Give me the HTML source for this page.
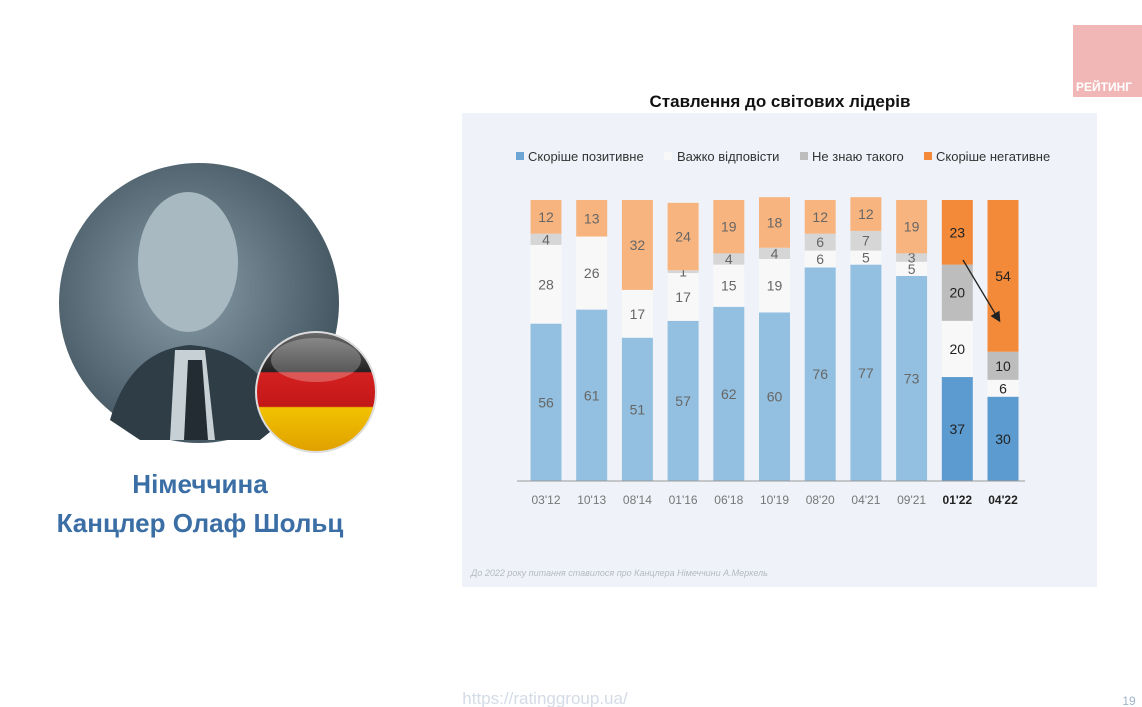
<!DOCTYPE html>
<html><head><meta charset="utf-8"><style>
html,body{margin:0;padding:0;background:#fff;width:1142px;height:707px;overflow:hidden}
svg{display:block;font-family:"Liberation Sans","DejaVu Sans",sans-serif}
</style></head><body>
<svg id="s" width="1142" height="707" viewBox="0 0 1142 707" xmlns="http://www.w3.org/2000/svg">
<defs>
<radialGradient id="ph" cx="0.45" cy="0.45" r="0.6"><stop offset="0" stop-color="#8a9ea9"/><stop offset="1" stop-color="#3f525d"/></radialGradient>
<linearGradient id="fl" x1="0" y1="0" x2="0" y2="1">
<stop offset="0" stop-color="#6a6a6a"/><stop offset="0.33" stop-color="#222"/><stop offset="0.34" stop-color="#d42020"/><stop offset="0.62" stop-color="#c21818"/><stop offset="0.63" stop-color="#f2c200"/><stop offset="1" stop-color="#e0a000"/></linearGradient>
<marker id="ah" markerWidth="8" markerHeight="8" refX="6" refY="4" orient="auto"><path d="M0,0L8,4L0,8z" fill="#222"/></marker>
</defs>
<rect x="1073" y="25" width="69" height="72" fill="#f1b7b7"/>
<text x="1076" y="91" font-size="12" font-weight="bold" fill="#fff">РЕЙТИНГ</text>
<circle cx="199" cy="303" r="140" fill="url(#ph)"/>
<ellipse cx="188" cy="262" rx="50" ry="70" fill="#a9b9c1"/>
<path d="M110,420 Q130,350 190,345 Q260,350 285,420 L260,440 L140,440Z" fill="#2e3d46"/>
<path d="M175,350 L205,350 L215,440 L170,440Z" fill="#c7d0d5"/>
<path d="M188,360 L202,360 L208,440 L184,440Z" fill="#222c32"/>
<circle cx="316" cy="392" r="60" fill="url(#fl)" stroke="#ddd" stroke-width="2"/>
<ellipse cx="316" cy="360" rx="45" ry="22" fill="#fff" opacity="0.25"/>
<text x="200" y="493" text-anchor="middle" font-size="26" font-weight="bold" fill="#3a6ea5">Німеччина</text>
<text x="200" y="532" text-anchor="middle" font-size="26" font-weight="bold" fill="#3a6ea5">Канцлер Олаф Шольц</text>
<text x="780" y="107" text-anchor="middle" font-size="17" font-weight="bold" fill="#111">Ставлення до світових лідерів</text>
<rect x="462" y="113" width="635" height="474" fill="#eff3f9"/>
<g id="legend" font-size="13" fill="#333">
<rect x="516" y="152" width="8" height="8" fill="#6ea6d3"/><text x="528" y="161">Скоріше позитивне</text>
<rect x="664" y="152" width="8" height="8" fill="#f8f8f8"/><text x="677" y="161">Важко відповісти</text>
<rect x="800" y="152" width="8" height="8" fill="#bdbdbd"/><text x="812" y="161">Не знаю такого</text>
<rect x="924" y="152" width="8" height="8" fill="#f28a3a"/><text x="936" y="161">Скоріше негативне</text>
</g>
<g id="bars"></g>
<line x1="517" y1="481" x2="1025" y2="481" stroke="#999" stroke-width="1"/>
<g id="xt"></g>
<line x1="963" y1="260" x2="999" y2="320" stroke="#222" stroke-width="1.3" marker-end="url(#ah)"/>
<text x="471" y="576" font-size="9" font-style="italic" fill="#b5b9c0">До 2022 року питання ставилося про Канцлера Німеччини А.Меркель</text>
<text x="545" y="704" text-anchor="middle" font-size="17" fill="#d4dbe6">https://ratinggroup.ua/</text>
<text x="1129" y="705" text-anchor="middle" font-size="12" fill="#9fb3c8">19</text>
</svg>
<script>
const categories=["03'12","10'13","08'14","01'16","06'18","10'19","08'20","04'21","09'21","01'22","04'22"];
const positive=[56,61,51,57,62,60,76,77,73,37,30];
const difficult=[28,26,17,17,15,19,6,5,5,20,6];
const dontKnow=[4,0,0,1,4,4,6,7,3,20,10];
const negative=[12,13,32,24,19,18,12,12,19,23,54];
const NS="http://www.w3.org/2000/svg";
const baseY=481,unit=2.81,x0=546,step=45.7,bw=31;
const xPos=i=>x0+i*step;
const yH=v=>v*unit;
const bars=document.getElementById('bars'),xt=document.getElementById('xt');
const series=[
 {d:positive,c:'#93c0e0',c2:'#5b9bd0',n:'positive'},
 {d:difficult,c:'#f8f8f8',c2:'#f8f8f8',n:'difficult'},
 {d:dontKnow,c:'#d6d6d6',c2:'#bdbdbd',n:'dont-know'},
 {d:negative,c:'#f8b47e',c2:'#f28a3a',n:'negative'}];
categories.forEach((cat,i)=>{
 const hi=i>=9;let y=baseY;
 series.forEach(s=>{
  const v=s.d[i];const h=yH(v);y-=h;
  if(v<=0)return;
  const r=document.createElementNS(NS,'rect');
  r.setAttribute('x',xPos(i)-bw/2);r.setAttribute('y',y);r.setAttribute('width',bw);r.setAttribute('height',h);
  r.setAttribute('fill',hi?s.c2:s.c);
  
  
  bars.appendChild(r);
  const t=document.createElementNS(NS,'text');
  t.setAttribute('x',xPos(i));t.setAttribute('y',y+h/2+5);t.setAttribute('text-anchor','middle');
  t.setAttribute('font-size','14');t.setAttribute('fill',hi?'#222':'#666');
  t.textContent=v;
  
  
  bars.appendChild(t);
 });
 const l=document.createElementNS(NS,'text');
 l.setAttribute('x',xPos(i));l.setAttribute('y',504);l.setAttribute('text-anchor','middle');
 l.setAttribute('font-size','12');l.setAttribute('fill',hi?'#222':'#777');
 if(hi)l.setAttribute('font-weight','bold');
 l.textContent=cat;
 
 
 xt.appendChild(l);
});
</script>
</body></html>
